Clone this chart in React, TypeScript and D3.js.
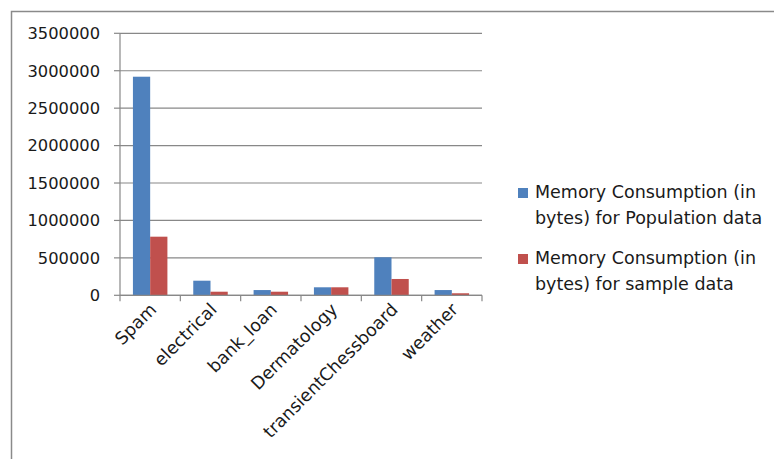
import React from "react";
import * as d3 from "d3";

const categories = ["Spam", "electrical", "bank_loan", "Dermatology", "transientChessboard", "weather"];
const populationValues = [2920000, 195000, 70000, 107000, 508000, 70000];
const sampleValues = [783000, 48000, 48000, 107000, 218000, 27000];
const seriesNames = [
  ["Memory Consumption (in", "bytes) for Population data"],
  ["Memory Consumption (in", "bytes) for sample data"],
];
const seriesColors = ["#4F81BD", "#C0504D"];
const yTicks = [0, 500000, 1000000, 1500000, 2000000, 2500000, 3000000, 3500000];

const W = 774;
const H = 459;
const plot = { left: 120, right: 482, top: 33.3, bottom: 295.3 };
const FONT = "'DejaVu Sans', sans-serif";
const GRID = "#888888";
const TEXT = "#1a1a1a";

export default function App() {
  const x = d3.scaleBand<string>().domain(categories).range([plot.left, plot.right]).paddingInner(0).paddingOuter(0);
  const inner = d3.scaleBand<number>().domain([0, 1]).range([0, x.bandwidth()]).paddingInner(0).paddingOuter(0.75);
  const y = d3.scaleLinear().domain([0, 3500000]).range([plot.bottom, plot.top]);
  const series = [populationValues, sampleValues];

  return (
    <svg width={W} height={H} style={{ position: "absolute", left: 0, top: 0, background: "#fff" }}>
      <rect x={11.5} y={11.5} width={W + 20} height={H + 20} fill="#fff" stroke="#8a8a8a" strokeWidth={1.5} />
      {/* gridlines */}
      {yTicks.map((t) => (
        <line key={"g" + t} x1={plot.left} x2={plot.right} y1={y(t)} y2={y(t)} stroke={GRID} strokeWidth={1.2} />
      ))}
      {/* y tick labels and marks */}
      {yTicks.map((t) => (
        <g key={"t" + t}>
          <line x1={plot.left - 6} x2={plot.left} y1={y(t)} y2={y(t)} stroke={GRID} strokeWidth={1.2} />
          <text x={100} y={y(t)} dy="0.36em" textAnchor="end" fontFamily={FONT} fontSize={16.3} fill={TEXT}>
            {t}
          </text>
        </g>
      ))}
      {/* bars */}
      {series.map((vals, si) =>
        vals.map((v, ci) => (
          <rect
            key={si + "-" + ci}
            x={(x(categories[ci]) as number) + (inner(si) as number)}
            y={y(v)}
            width={inner.bandwidth()}
            height={y(0) - y(v)}
            fill={seriesColors[si]}
          />
        ))
      )}
      {/* axes */}
      <line x1={plot.left} x2={plot.left} y1={plot.top} y2={plot.bottom} stroke={GRID} strokeWidth={1.2} />
      <line x1={plot.left} x2={plot.right} y1={plot.bottom} y2={plot.bottom} stroke={GRID} strokeWidth={1.2} />
      {categories.concat([""]).map((c, i) => {
        const xx = plot.left + i * x.step();
        return <line key={"xt" + i} x1={xx} x2={xx} y1={plot.bottom} y2={plot.bottom + 6} stroke={GRID} strokeWidth={1.2} />;
      })}
      {/* category labels */}
      {categories.map((c) => {
        const cx = (x(c) as number) + x.bandwidth() / 2 + 3;
        const cy = plot.bottom + 11;
        return (
          <text
            key={"l" + c}
            transform={`translate(${cx},${cy}) rotate(-45)`}
            textAnchor="end"
            dy="0.35em"
            fontFamily={FONT}
            fontSize={17.5}
            fill={TEXT}
          >
            {c}
          </text>
        );
      })}
      {/* legend */}
      {seriesNames.map((lines, i) => {
        const top = 192 + i * 66;
        return (
          <g key={"lg" + i}>
            <rect x={518} y={top - 4} width={10} height={10} fill={seriesColors[i]} />
            {lines.map((ln, j) => (
              <text key={j} x={535} y={top + j * 26} dy="0.35em" fontFamily={FONT} fontSize={17.5} fill={TEXT}>
                {ln}
              </text>
            ))}
          </g>
        );
      })}
    </svg>
  );
}
